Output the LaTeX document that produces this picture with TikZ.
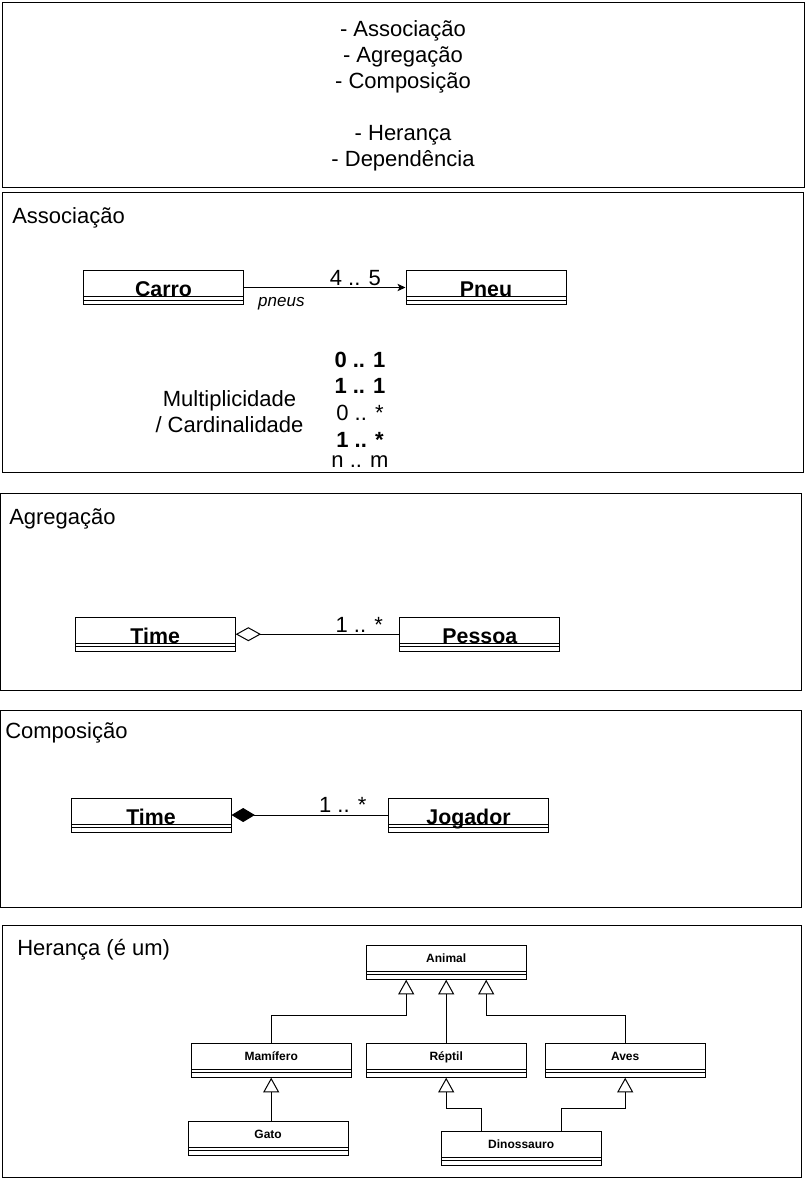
\documentclass[tikz,border=0pt]{standalone}
\usepackage{fontspec}
\setmainfont{Liberation Sans}
\usetikzlibrary{arrows.meta, positioning, calc}

\tikzset{
  txt/.style={inner sep=0pt, font=\fontsize{16.5}{19.5}\selectfont},
  frame/.style={draw, line width=0.75pt},
  dividers/.style={path picture={
      \draw[line width=0.75pt] ([yshift=-19.5pt]path picture bounding box.north west) -- ([yshift=-19.5pt]path picture bounding box.north east);
      \draw[line width=0.75pt] ([yshift=-22.25pt]path picture bounding box.north west) -- ([yshift=-22.25pt]path picture bounding box.north east);}},
  umlbig/.style={draw, line width=0.75pt, inner sep=0pt, text width=120pt, align=center,
    text height=19.5pt, text depth=6pt, font=\fontsize{16}{19}\selectfont\bfseries, dividers},
  umlsmall/.style={draw, line width=0.75pt, inner sep=0pt, text width=120pt, align=center,
    text height=12.75pt, text depth=12.75pt, font=\fontsize{9}{11}\selectfont\bfseries, dividers},
  assoc/.style={line width=0.75pt, -{Stealth[length=6pt, width=5.5pt, inset=1.5pt]}},
  aggr/.style={line width=0.75pt, {Diamond[open, length=19pt, width=10.5pt]}-},
  compo/.style={line width=0.75pt, {Diamond[length=17.5pt, width=10.5pt]}-},
  inherit/.style={line width=0.75pt, -{Triangle[open, length=11pt, width=12pt]}},
}

\begin{document}
\begin{tikzpicture}[x=0.75pt, y=-0.75pt]
\useasboundingbox (0,0) rectangle (805,1179);

% Frames
\draw[frame] (2.5,2.5) rectangle (804,187);
\draw[frame] (2.5,192.5) rectangle (803,472);
\draw[frame] (0.5,493) rectangle (801,690);
\draw[frame] (0.5,710.5) rectangle (801,907);
\draw[frame] (2.5,925.5) rectangle (801,1177);

% Topics
\foreach \txt/\yy [count=\i] in {{- Associação}/36, {- Agregação}/62, {- Composição}/88, {- Herança}/140, {- Dependência}/166}
  \node[txt, anchor=base] (topic\i) at (403,\yy) {\txt};

% Associacao
\node[txt, anchor=base west] (assoctitle) at (12,223) {Associação};
\node[umlbig, anchor=north west] (carro) at (83,270) {Carro};
\node[umlbig, anchor=north west] (pneu) at (405.5,270) {Pneu};
\draw[assoc] (carro) -- node[txt, pos=0.85, anchor=base east, yshift=1.5pt] (m45) {4 .. 5}
  node[inner sep=0pt, pos=0.085, anchor=base west, yshift=-14pt, font=\fontsize{12.75}{15}\selectfont\itshape] (role) {pneus} (pneu);

\node[txt, anchor=base] (mult1) at (229.5,406) {Multiplicidade};
\node[txt, anchor=base] (mult2) at (229.5,432) {/ Cardinalidade};
\foreach \txt/\yy [count=\i] in {{\bfseries 0 .. 1}/367.5, {\bfseries 1 .. 1}/393.5, {0 .. *}/420.5, {\bfseries 1 .. *}/447, {n .. m}/467.5}
  \node[txt, anchor=base] (card\i) at (360,\yy) {\txt};

% Agregacao
\node[txt, anchor=base west] (aggrtitle) at (9,524) {Agregação};
\node[umlbig, anchor=north west] (time1) at (74.7,616.7) {Time};
\node[umlbig, anchor=north west] (pessoa) at (399.3,616.7) {Pessoa};
\draw[aggr] (time1) -- node[txt, pos=0.903, anchor=base east, yshift=1.3pt] (m1) {1 .. *} (pessoa);

% Composicao
\node[txt, anchor=base west] (compotitle) at (5,738) {Composição};
\node[umlbig, anchor=north west] (time2) at (70.5,797.5) {Time};
\node[umlbig, anchor=north west] (jogador) at (388,797.5) {Jogador};
\draw[compo] (time2) -- node[txt, pos=0.865, anchor=base east, yshift=2.25pt] (m2) {1 .. *} (jogador);

% Heranca
\node[txt, anchor=base west] (herancatitle) at (17,955) {Herança (é um)};
\node[umlsmall, anchor=north west] (animal) at (365.7,944.7) {Animal};
\node[umlsmall, anchor=north west] (mamifero) at (190.7,1042.7) {Mamífero};
\node[umlsmall, anchor=north west] (reptil) at (365.7,1042.7) {Réptil};
\node[umlsmall, anchor=north west] (aves) at (544.7,1042.7) {Aves};
\node[umlsmall, anchor=north west] (gato) at (187.6,1120.7) {Gato};
\node[umlsmall, anchor=north west] (dino) at (440.7,1130.7) {Dinossauro};

\coordinate (bus) at (0,1015.7);
\coordinate (dbus) at (0,1108.7);
\coordinate (animalL) at ([xshift=-30pt]animal.south);
\coordinate (animalR) at ([xshift=30pt]animal.south);
\coordinate (dinoL) at ([xshift=-30pt]dino.north);
\coordinate (dinoR) at ([xshift=30pt]dino.north);

\draw[inherit] (mamifero.north) |- (animalL |- bus) -- (animalL);
\draw[inherit] (reptil.north) -- (animal.south);
\draw[inherit] (aves.north) |- (animalR |- bus) -- (animalR);
\draw[inherit] (gato.north -| mamifero.south) -- (mamifero.south);
\draw[inherit] (dinoL) |- (reptil.south |- dbus) -- (reptil.south);
\draw[inherit] (dinoR) |- (aves.south |- dbus) -- (aves.south);
\end{tikzpicture}
\end{document}
